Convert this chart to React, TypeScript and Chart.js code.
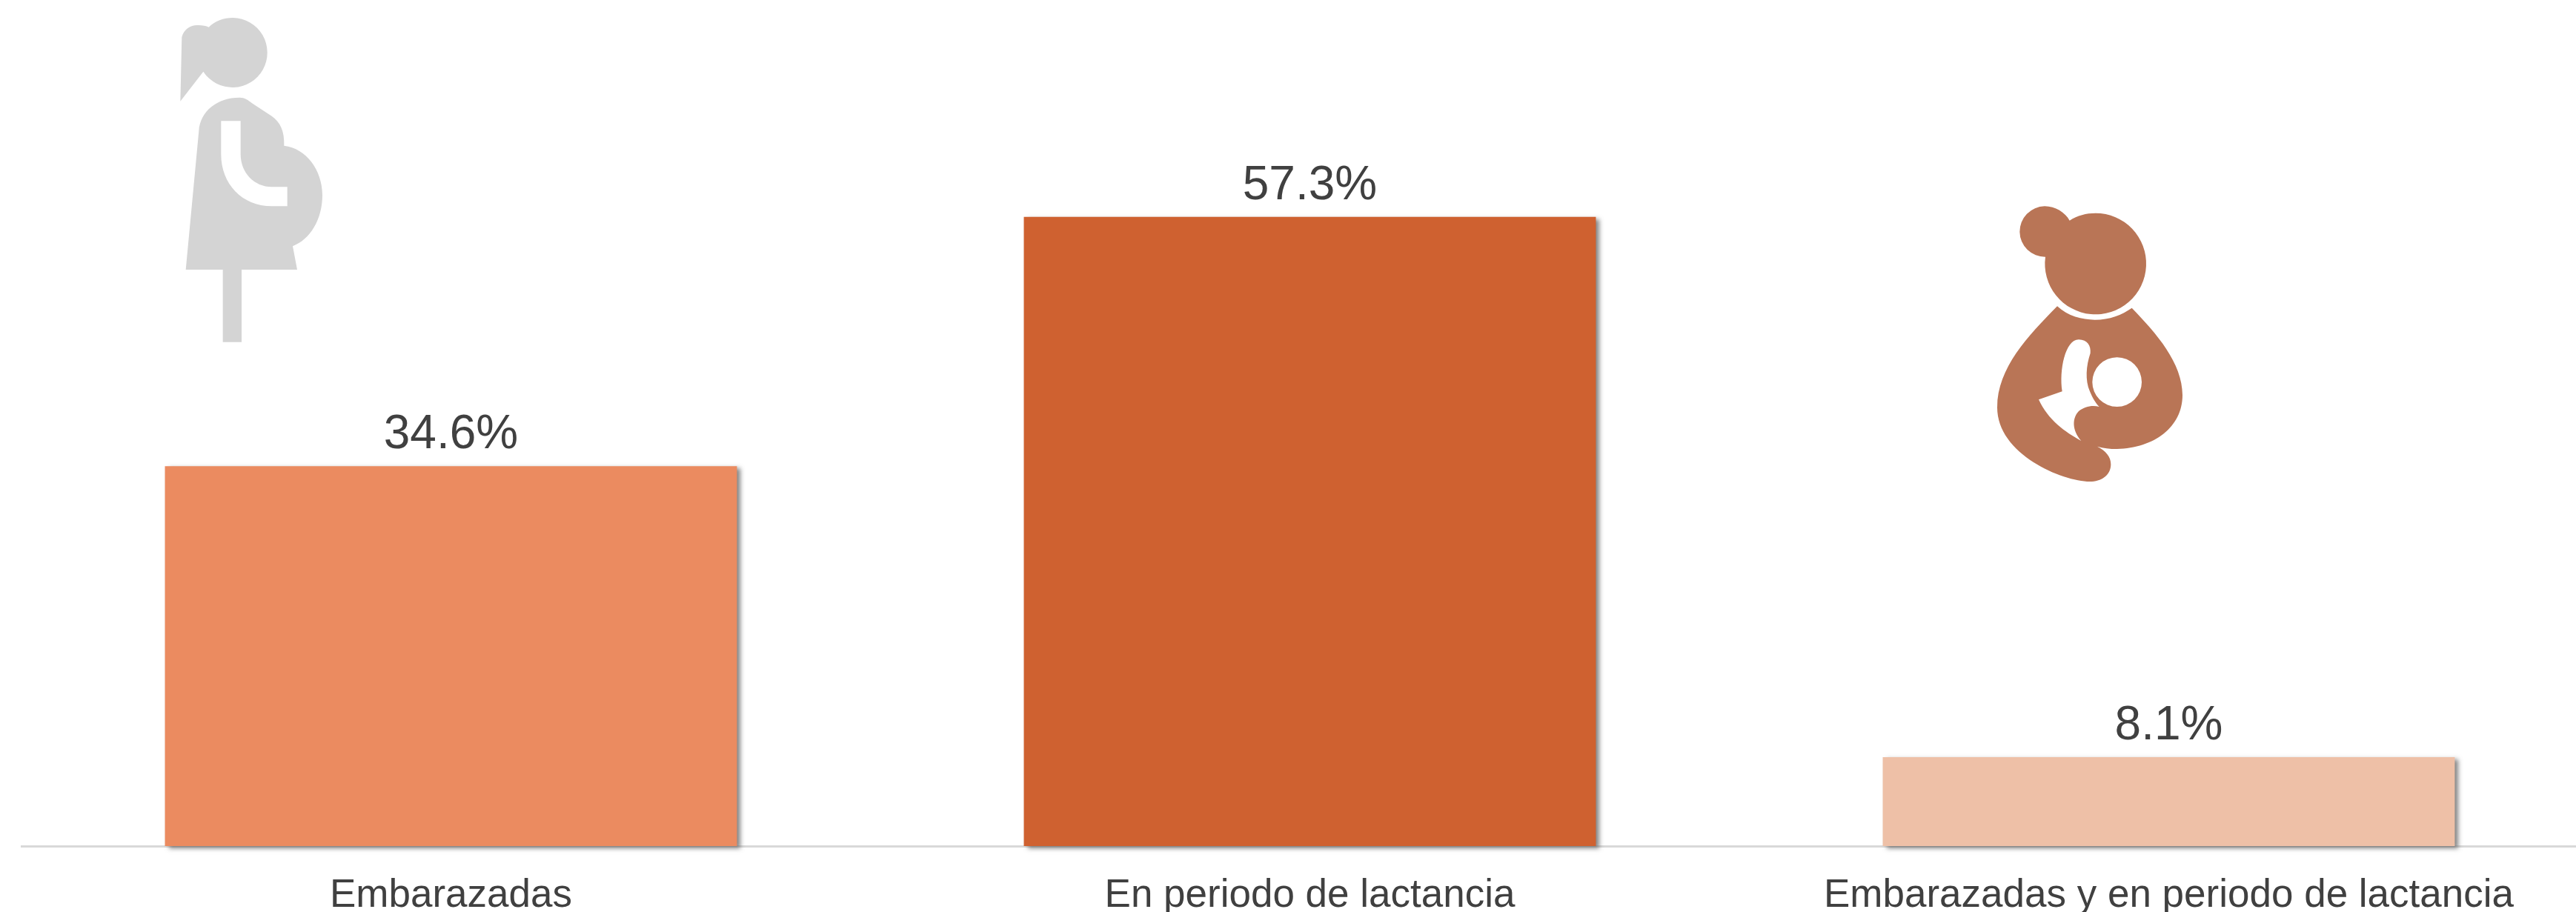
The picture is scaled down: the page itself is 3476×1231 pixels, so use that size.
import React, { useEffect, useRef } from "react";
import { Chart, registerables } from "chart.js";

Chart.register(...registerables);

const categories = ["Embarazadas", "En periodo de lactancia", "Embarazadas y en periodo de lactancia"];
const values = [34.6, 57.3, 8.1];
const barColors = ["#EB8B60", "#CF6130", "#EEC0A7"];

const FONT = '"Liberation Sans", Arial, sans-serif';
const TEXT = "#404040";

const pregnantPath =
  "M403 72 A141 141 0 1 1 283 290 L190 410 L196 150 C205 115 235 100 262 102 C280 102 295 105 305 110 C330 85 365 72 403 72 Z " +
  "M265 530 C270 450 340 395 430 395 C450 395 465 405 480 418 L560 470 C595 495 612 530 610 590 C700 600 765 690 765 790 C765 890 715 970 645 997 L663 1092 L438 1092 L438 1385 L362 1385 L362 1092 L212 1092 Z " +
  "M355 490 L434 490 L434 625 C434 700 490 757 560 757 L623 757 L623 835 L560 835 C440 835 355 745 355 625 Z";

const nursingPath =
  "M327 85 C370 85 410 110 428 143 C460 122 495 113 533 113 A205 205 0 1 1 330 290 A102 102 0 0 1 327 85 Z " +
  "M378 490 C420 530 480 545 530 545 C590 545 640 525 680 497 C780 600 885 720 885 850 C885 980 770 1065 620 1068 C590 1068 565 1065 540 1058 C575 1075 595 1100 595 1130 C595 1175 555 1200 510 1200 C400 1200 135 1090 135 900 C135 740 260 610 378 490 Z " +
  "M398 835 C385 750 410 625 465 625 C500 625 515 650 512 680 C495 730 490 790 510 835 C520 860 535 885 548 897 C520 890 490 895 465 915 C440 940 435 990 475 1035 C410 1000 340 950 303 868 Z " +
  "M720 797 A100 100 0 1 1 520 797 A100 100 0 1 1 720 797 Z";

const icons = [
  { path: pregnantPath, x: 180, y: 0, color: "#D4D4D4" },
  { path: nursingPath, x: 2650, y: 250, color: "#B97556" },
];

const decorations = {
  id: "decorations",
  beforeDatasetDraw(chart: any) {
    const c = chart.ctx;
    c.save();
    c.shadowColor = "rgba(80,80,80,0.7)";
    c.shadowBlur = 6;
    c.shadowOffsetX = 5;
    c.shadowOffsetY = 3;
  },
  afterDatasetDraw(chart: any) {
    chart.ctx.restore();
  },
  afterDatasetsDraw(chart: any) {
    const c = chart.ctx;
    const meta = chart.getDatasetMeta(0);
    c.save();
    c.font = `64px ${FONT}`;
    c.fillStyle = TEXT;
    c.textAlign = "center";
    c.textBaseline = "alphabetic";
    meta.data.forEach((bar: any, i: number) => {
      c.fillText(values[i].toFixed(1) + "%", bar.x, bar.y - 24);
    });
    c.restore();
    icons.forEach((icon) => {
      c.save();
      c.translate(icon.x, icon.y);
      c.scale(1 / 3, 1 / 3);
      c.fillStyle = icon.color;
      c.fill(new Path2D(icon.path), "evenodd");
      c.restore();
    });
  },
};

export default function App() {
  const ref = useRef<HTMLCanvasElement>(null);
  useEffect(() => {
    const chart = new Chart(ref.current!, {
      type: "bar",
      data: {
        labels: categories,
        datasets: [
          {
            data: values,
            backgroundColor: barColors,
            borderWidth: 0,
            barPercentage: 1,
            categoryPercentage: 0.666,
            clip: false,
          } as any,
        ],
      },
      options: {
        animation: false,
        responsive: false,
        layout: { padding: { left: 29, right: 0, top: 0, bottom: 0 } },
        plugins: { legend: { display: false }, tooltip: { enabled: false } },
        scales: {
          x: {
            afterFit(scale: any) {
              scale.height = 89;
            },
            grid: { display: false, drawTicks: false },
            border: { display: true, color: "#D9D9D9", width: 3 },
            ticks: {
              autoSkip: false,
              maxRotation: 0,
              minRotation: 0,
              padding: 36,
              color: TEXT,
              font: { family: FONT, size: 53 },
            },
          },
          y: { display: false, min: 0, max: 77.06 },
        },
      },
      plugins: [decorations],
    });
    return () => chart.destroy();
  }, []);
  return (
    <div style={{ position: "absolute", left: 0, top: 0, width: 3476, height: 1231, overflow: "hidden", background: "#fff" }}>
      <canvas ref={ref} width={3506} height={1231} style={{ display: "block" }} />
    </div>
  );
}
